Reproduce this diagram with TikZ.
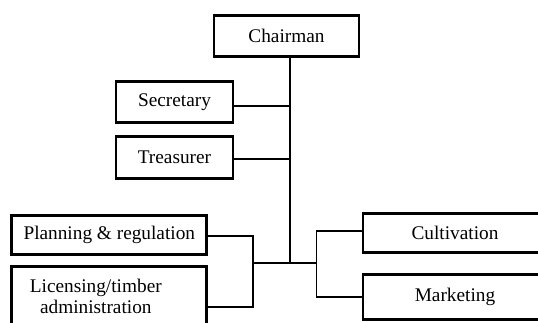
\documentclass[tikz,border=0pt]{standalone}
\usepackage{fontspec}
\setmainfont{Liberation Serif}
\usetikzlibrary{calc}
\begin{document}
\begin{tikzpicture}[x=1pt,y=-1pt,
  box/.style={draw, line width=2.9pt, inner sep=0pt, font=\fontsize{19.3}{21}\selectfont, align=center},
  link/.style={line width=1.9pt}]
\useasboundingbox (0,0) rectangle (538,322);
\clip (0,0) rectangle (538,322);
\node[box, minimum width=145, minimum height=41] (chair) at (286.5,35.7) {Chairman};
\node[box, minimum width=117, minimum height=41] (sec) at (174.5,102) {Secretary};
\node[box, minimum width=117, minimum height=42] (tre) at (174.5,157.3) {Treasurer};
\node[box, minimum width=195, minimum height=39] (plan) at (109.3,234.7) {Planning \& regulation};
\node[box, minimum width=195, minimum height=65] (lic) at (109.3,299) {\begin{tabular}{@{}c@{}}Licensing/timber\\administration\end{tabular}\hspace*{27pt}};
\node[box, minimum width=184, minimum height=39] (cult) at (455,232.8) {Cultivation};
\node[box, minimum width=184, minimum height=45] (mkt) at (455,296.7) {Marketing};
\coordinate (jn) at (290,262.7);
\coordinate (lb) at (253,262.7);
\coordinate (rb) at (316.5,262.7);
\draw[link] (jn |- chair.south) -- (jn);
\draw[link] ([yshift=-4pt]sec.east) -- ([yshift=-4pt]sec.east -| jn);
\draw[link] ([yshift=-1.4pt]tre.east) -- ([yshift=-1.4pt]tre.east -| jn);
\draw[link] ([yshift=-1.3pt]plan.east) -| (lb);
\draw[link] ([yshift=-8.3pt]lic.east) -| (lb);
\draw[link] (lb) -- (rb);
\draw[link] ([yshift=2.1pt]cult.west) -| (rb);
\draw[link] (mkt.west) -| (rb);
\end{tikzpicture}
\end{document}
